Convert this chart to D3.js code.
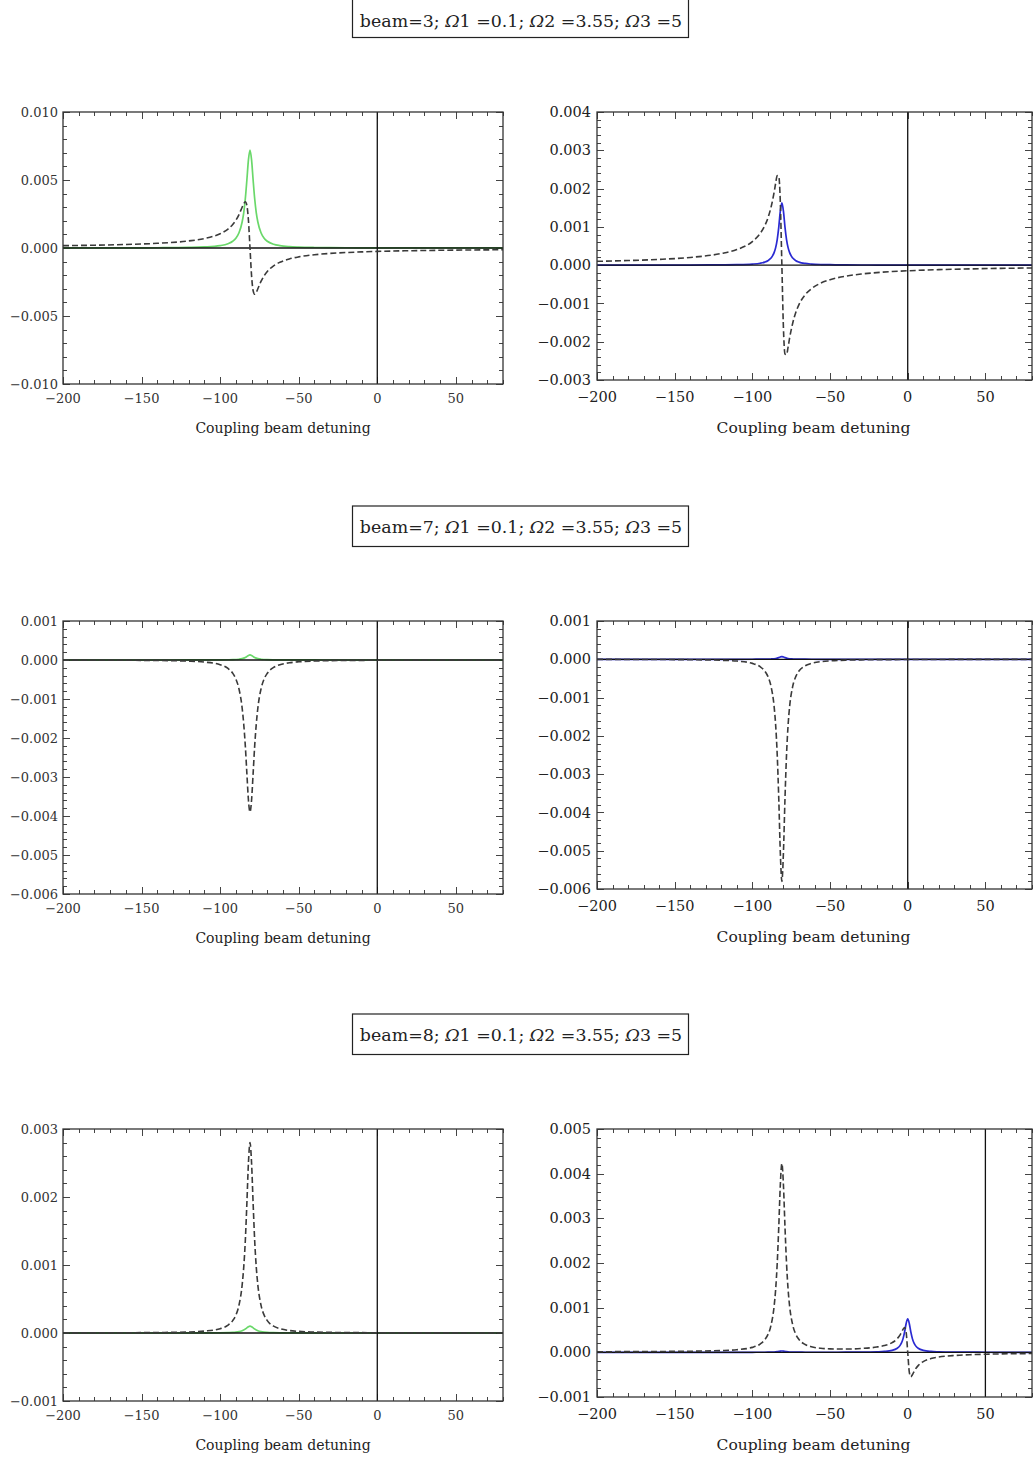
<!DOCTYPE html>
<html>
<head>
<meta charset="utf-8">
<script src="https://cdn.jsdelivr.net/npm/d3@7"></script>
<style>
  html, body { margin: 0; padding: 0; background: #fff; }
  svg { display: block; }
  text { font-family: "DejaVu Serif", "Liberation Serif", serif; }
</style>
</head>
<body>
<svg id="chart" width="1034" height="1458"></svg>
<script>
// ---------------- DATA ----------------
const titles = [
  "beam=3; Ω1 =0.1; Ω2 =3.55; Ω3 =5",
  "beam=7; Ω1 =0.1; Ω2 =3.55; Ω3 =5",
  "beam=8; Ω1 =0.1; Ω2 =3.55; Ω3 =5"
];
const xAxisLabel = "Coupling beam detuning";
const xTickValues = [-200, -150, -100, -50, 0, 50];

// shared detuning grid (panels beam=3, beam=7, beam=8 left)
const xGrid = [-200,-180,-160,-140,-120,-110,-100,-95,-92,-90,-88,-86,-85,-84,-83,-82,-81,-80,-79,-78,
  -77,-76,-74,-72,-70,-66,-62,-56,-50,-40,-30,-20,-10,0,20,40,60,80];
// grid for beam=8 right panel (second resonance near 0)
const xGrid6 = [-200,-180,-160,-140,-120,-110,-100,-95,-92,-90,-88,-86,-85,-84,-83,-82,-81,-80,-79,-78,
  -77,-76,-74,-72,-70,-66,-62,-56,-50,-40,-30,-20,-15,-10,-7,-5,-4,-3,-2,-1,
  0,1,2,3,4,5,7,10,15,20,30,40,50,60,70,80];

// beam = 3
const beam3LeftDashed = [0.000171,0.000206,0.000258,0.000345,0.00052,0.000696,0.00105,0.00139,0.00173,0.00204,
  0.00246,0.0030,0.00326,0.0034,0.00314,0.00204,0,-0.00204,-0.00314,-0.0034,
  -0.00326,-0.0030,-0.00246,-0.00204,-0.00173,-0.00131,-0.00105,-0.000804,-0.000652,-0.000495,
  -0.000399,-0.000334,-0.000287,-0.000251,-0.000202,-0.000168,-0.000145,-0.000127];
const beam3LeftGreen = [0.000005,0.000007,0.00001,0.000019,0.000042,0.000076,0.000175,0.000316,0.000498,0.00072,
  0.00112,0.00191,0.00259,0.0036,0.00498,0.00648,0.0072,0.00648,0.00498,0.0036,
  0.00259,0.00191,0.00112,0.00072,0.000498,0.000277,0.000175,0.000102,0.000067,0.000038,
  0.000025,0.000017,0.000013,0.00001,0.000006,0.000004,0.000003,0.000002];
const beam3RightDashed = [0.0001,0.00012,0.00015,0.000201,0.000304,0.000407,0.000616,0.000825,0.00103,0.00123,
  0.00151,0.0019,0.00214,0.00234,0.00232,0.00164,0,-0.00164,-0.00232,-0.00234,
  -0.00214,-0.0019,-0.00151,-0.00123,-0.00103,-0.000772,-0.000616,-0.000471,-0.000381,-0.000289,
  -0.000233,-0.000195,-0.000167,-0.000147,-0.000118,-0.000098,-0.000084,-0.000074];
const beam3RightBlue = [0,0,0.000001,0.000003,0.000007,0.000012,0.000028,0.00005,0.00008,0.000117,
  0.000184,0.000326,0.000458,0.000668,0.000994,0.00141,0.00163,0.00141,0.000994,0.000668,
  0.000458,0.000326,0.000184,0.000117,0.00008,0.000044,0.000028,0.000016,0.000011,0.000006,
  0.000004,0.000003,0.000002,0.000001,0.000001,0,0,0];

// beam = 7
const beam7LeftDashed = [-0.000003,-0.000005,-0.000007,-0.000013,-0.000029,-0.000053,-0.000121,-0.000217,-0.00034,-0.000487,
  -0.000744,-0.00123,-0.00164,-0.00219,-0.0029,-0.00359,-0.0039,-0.00359,-0.0029,-0.00219,
  -0.00164,-0.00123,-0.000744,-0.000487,-0.00034,-0.000191,-0.000121,-0.000071,-0.000046,-0.000027,
  -0.000017,-0.000012,-0.000009,-0.000007,-0.000004,-0.000003,-0.000002,-0.000002];
const beam7LeftGreen = [0,0,0,0,0.000001,0.000001,0.000003,0.000006,0.000009,0.000013,
  0.00002,0.000034,0.000047,0.000065,0.00009,0.000117,0.00013,0.000117,0.00009,0.000065,
  0.000047,0.000034,0.00002,0.000013,0.000009,0.000005,0.000003,0.000002,0.000001,0.000001,
  0,0,0,0,0,0,0,0];
const beam7RightDashed = [-0.000003,-0.000004,-0.000006,-0.000011,-0.000026,-0.000046,-0.000107,-0.000193,-0.000307,-0.000447,
  -0.000703,-0.00123,-0.00172,-0.00249,-0.00364,-0.00505,-0.0058,-0.00505,-0.00364,-0.00249,
  -0.00172,-0.00123,-0.000703,-0.000447,-0.000307,-0.000169,-0.000107,-0.000062,-0.000041,-0.000023,
  -0.000015,-0.00001,-0.000008,-0.000006,-0.000004,-0.000003,-0.000002,-0.000002];
const beam7RightBlue = [0,0,0,0,0,0,0.000001,0.000003,0.000003,0.000005,
  0.000008,0.000014,0.00002,0.000029,0.000043,0.00006,0.00007,0.00006,0.000043,0.000029,
  0.00002,0.000014,0.000008,0.000005,0.000003,0.000002,0.000001,0,0,0,
  0,0,0,0,0,0,0,0];

// beam = 8
const beam8LeftDashed = [0.000002,0.000002,0.000004,0.000007,0.000015,0.000028,0.000064,0.000115,0.000182,0.000263,
  0.00041,0.000705,0.000965,0.00135,0.0019,0.0025,0.0028,0.0025,0.0019,0.00135,
  0.000965,0.000705,0.00041,0.000263,0.000182,0.000101,0.000064,0.000037,0.000024,0.000014,
  0.000009,0.000006,0.000005,0.000004,0.000002,0.000002,0.000001,0.000001];
const beam8LeftGreen = [0,0,0,0,0.000001,0.000001,0.000003,0.000006,0.000009,0.000013,
  0.00002,0.000033,0.000043,0.000058,0.000075,0.000093,0.0001,0.000093,0.000075,0.000058,
  0.000043,0.000033,0.00002,0.000013,0.000009,0.000005,0.000003,0.000002,0.000001,0.000001,
  0,0,0,0,0,0,0,0];
const beam8RightDashed = [0.000013,0.000016,0.000019,0.000025,0.00004,0.000059,0.000111,0.000185,0.00028,0.000395,
  0.000604,0.00103,0.00141,0.00199,0.00281,0.00375,0.00423,0.00375,0.00281,0.00199,
  0.00141,0.00103,0.000609,0.000401,0.000287,0.000175,0.000125,0.000091,0.000078,0.000074,
  0.000086,0.000118,0.000152,0.000218,0.000297,0.000385,0.000446,0.000514,0.000555,0.000445,
  0.000005,-0.000435,-0.000545,-0.000503,-0.000435,-0.000374,-0.000286,-0.000208,-0.00014,-0.000106,
  -0.000071,-0.000053,-0.000043,-0.000035,-0.00003,-0.000027];
const beam8RightBlue = [0,0,0,0,0,0,0.000001,0.000002,0.000002,0.000003,
  0.000005,0.000008,0.000011,0.000015,0.000021,0.000027,0.00003,0.000027,0.000021,0.000015,
  0.000011,0.000008,0.000005,0.000003,0.000003,0.000002,0.000002,0.000002,0.000002,0.000003,
  0.000005,0.000012,0.00002,0.000044,0.000085,0.00015,0.000211,0.000307,0.000457,0.000647,
  0.00075,0.000647,0.000457,0.000307,0.000211,0.00015,0.000085,0.000044,0.00002,0.000012,
  0.000005,0.000003,0.000002,0.000001,0.000001,0.000001];

// y-axis tick labels per panel
const yTicksBeam3Left  = [-0.010, -0.005, 0.000, 0.005, 0.010];
const yTicksBeam3Right = [-0.003, -0.002, -0.001, 0.000, 0.001, 0.002, 0.003, 0.004];
const yTicksBeam7      = [-0.006, -0.005, -0.004, -0.003, -0.002, -0.001, 0.000, 0.001];
const yTicksBeam8Left  = [-0.001, 0.000, 0.001, 0.002, 0.003];
const yTicksBeam8Right = [-0.001, 0.000, 0.001, 0.002, 0.003, 0.004, 0.005];

// ---------------- LAYOUT ----------------
const GREEN = "#6ad86a", BLUE = "#2a2ad2", DASH = "#3a3a3a";
const panels = [
  {x0:63, x1:503, y0:112, y1:384, yDom:[-0.010,0.010], yMinor:0.001, yTicks:yTicksBeam3Left,
   xs:xGrid, dashed:beam3LeftDashed, solid:beam3LeftGreen, color:GREEN, vx:0, side:"L"},
  {x0:597, x1:1032, y0:112, y1:380, yDom:[-0.003,0.004], yMinor:0.0002, yTicks:yTicksBeam3Right,
   xs:xGrid, dashed:beam3RightDashed, solid:beam3RightBlue, color:BLUE, vx:0, side:"R"},
  {x0:63, x1:503, y0:621, y1:894, yDom:[-0.006,0.001], yMinor:0.0002, yTicks:yTicksBeam7,
   xs:xGrid, dashed:beam7LeftDashed, solid:beam7LeftGreen, color:GREEN, vx:0, side:"L"},
  {x0:597, x1:1032, y0:621, y1:889, yDom:[-0.006,0.001], yMinor:0.0002, yTicks:yTicksBeam7,
   xs:xGrid, dashed:beam7RightDashed, solid:beam7RightBlue, color:BLUE, vx:0, side:"R"},
  {x0:63, x1:503, y0:1129, y1:1401, yDom:[-0.001,0.003], yMinor:0.0002, yTicks:yTicksBeam8Left,
   xs:xGrid, dashed:beam8LeftDashed, solid:beam8LeftGreen, color:GREEN, vx:0, side:"L"},
  {x0:597, x1:1032, y0:1129, y1:1397, yDom:[-0.001,0.005], yMinor:0.0002, yTicks:yTicksBeam8Right,
   xs:xGrid6, dashed:beam8RightDashed, solid:beam8RightBlue, color:BLUE, vx:50, side:"R"}
];
const titleBoxes = [
  {y:-3, base:27},
  {y:506, base:533},
  {y:1014, base:1041}
];

const svg = d3.select("#chart");
svg.append("rect").attr("width",1034).attr("height",1458).attr("fill","#fff");

// titles
titleBoxes.forEach((b, i) => {
  svg.append("rect").attr("x",352.5).attr("y",b.y).attr("width",336).attr("height",40.5)
    .attr("fill","none").attr("stroke","#222").attr("stroke-width",1.2);
  const parts = titles[i].split(/(Ω)/);
  const t = svg.append("text").attr("x",521).attr("y",b.base).attr("text-anchor","middle")
    .attr("font-size",17.4).attr("fill","#222");
  parts.forEach(p => {
    if (!p) return;
    const ts = t.append("tspan").text(p);
    if (p === "Ω") ts.attr("font-style","italic");
  });
});

function fmt(v) {
  const s = Math.abs(v).toFixed(3);
  return v < -1e-12 ? "\u2212" + s : s;
}
function fmtX(v) { return v < 0 ? "\u2212" + Math.abs(v) : String(v); }

panels.forEach(p => {
  const isR = p.side === "R";
  const fsTick = isR ? 14.5 : 13;
  const fsLab = isR ? 15.5 : 14;
  const tickCol = isR ? "#222" : "#333";
  const x = d3.scaleLinear().domain([-200, 80]).range([p.x0, p.x1]);
  const y = d3.scaleLinear().domain(p.yDom).range([p.y1, p.y0]);
  const g = svg.append("g");

  // ticks on all four sides (inward)
  const xMinor = d3.range(-200, 80.001, 10);
  const nY = Math.round((p.yDom[1]-p.yDom[0]) / p.yMinor);
  const yMinor = d3.range(0, nY+1).map(i => p.yDom[0] + i*p.yMinor);
  const isMajorX = v => Math.abs(v % 50) < 1e-9;
  const isMajorY = v => p.yTicks.some(t => Math.abs(t - v) < p.yMinor*0.01);
  const tk = g.append("g").attr("stroke","#444").attr("stroke-width",1);
  xMinor.forEach(v => {
    const L = isMajorX(v) ? 7 : 4;
    const xx = Math.round(x(v)) + 0.5;
    tk.append("line").attr("x1",xx).attr("x2",xx).attr("y1",p.y1).attr("y2",p.y1-L);
    tk.append("line").attr("x1",xx).attr("x2",xx).attr("y1",p.y0).attr("y2",p.y0+L);
  });
  yMinor.forEach(v => {
    const L = isMajorY(v) ? 7 : 4;
    const yy = Math.round(y(v)) + 0.5;
    tk.append("line").attr("y1",yy).attr("y2",yy).attr("x1",p.x0).attr("x2",p.x0+L);
    tk.append("line").attr("y1",yy).attr("y2",yy).attr("x1",p.x1).attr("x2",p.x1-L);
  });

  // tick labels
  xTickValues.forEach(v => {
    g.append("text").attr("x", x(v)).attr("y", p.y1 + (isR ? 22 : 18.5))
      .attr("text-anchor","middle").attr("font-size",fsTick).attr("fill",tickCol).text(fmtX(v));
  });
  p.yTicks.forEach(v => {
    g.append("text").attr("x", p.x0 - (isR ? 6 : 5)).attr("y", y(v)).attr("dy","0.35em")
      .attr("text-anchor","end").attr("font-size",fsTick).attr("fill",tickCol).text(fmt(v));
  });

  // axis label
  g.append("text").attr("x",(p.x0+p.x1)/2 + (isR ? -1 : 0)).attr("y", p.y1 + (isR ? 53 : 49))
    .attr("text-anchor","middle").attr("font-size",fsLab).attr("fill","#222").text(xAxisLabel);

  // curves
  const clipId = "clip" + p.x0 + "_" + p.y0;
  svg.append("clipPath").attr("id",clipId).append("rect")
    .attr("x",p.x0).attr("y",p.y0).attr("width",p.x1-p.x0).attr("height",p.y1-p.y0);
  const line = d3.line().x(d => x(d[0])).y(d => y(d[1])).curve(d3.curveMonotoneX);
  const cg = g.append("g").attr("clip-path","url(#"+clipId+")");
  cg.append("path").attr("d", line(p.xs.map((v,i)=>[v,p.solid[i]])))
    .attr("fill","none").attr("stroke",p.color).attr("stroke-width",1.7);

  // zero axes (drawn over the solid curve, under the dashed one)
  g.append("line").attr("x1",p.x0).attr("x2",p.x1).attr("y1",y(0)).attr("y2",y(0))
    .attr("stroke","#111").attr("stroke-width",1.3);
  g.append("line").attr("x1",x(p.vx)).attr("x2",x(p.vx)).attr("y1",p.y0).attr("y2",p.y1)
    .attr("stroke","#111").attr("stroke-width",1.3);

  const cg2 = g.append("g").attr("clip-path","url(#"+clipId+")");
  cg2.append("path").attr("d", line(p.xs.map((v,i)=>[v,p.dashed[i]])))
    .attr("fill","none").attr("stroke",DASH).attr("stroke-width",1.6).attr("stroke-dasharray","6,3");

  // frame
  g.append("rect").attr("x",p.x0).attr("y",p.y0).attr("width",p.x1-p.x0).attr("height",p.y1-p.y0)
    .attr("fill","none").attr("stroke","#333").attr("stroke-width",1.3);
});
</script>
</body>
</html>
